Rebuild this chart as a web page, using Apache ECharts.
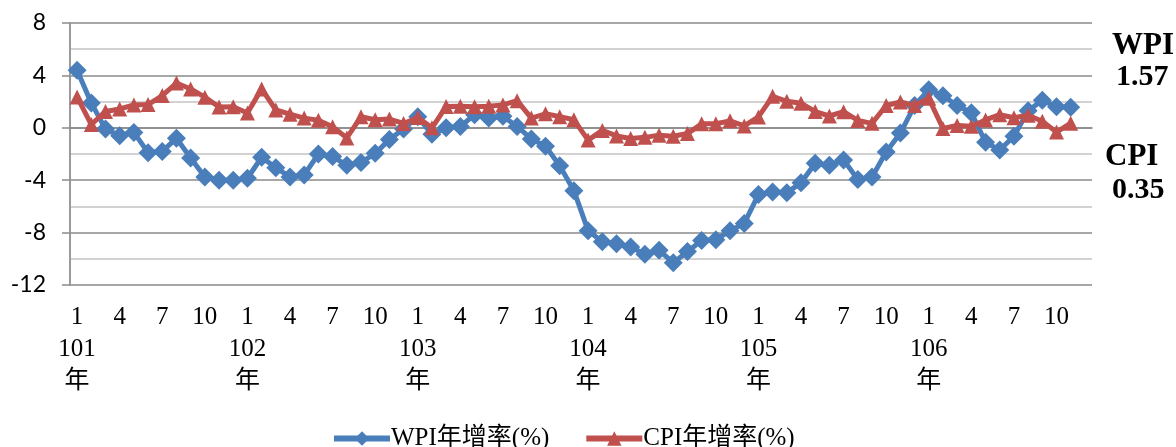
<!DOCTYPE html>
<html>
<head>
<meta charset="utf-8">
<script src="https://cdn.jsdelivr.net/npm/echarts@6/dist/echarts.min.js"></script>
<style>
html,body{margin:0;padding:0;background:#fff;}
#chart{width:1176px;height:447px;}
</style>
</head>
<body>
<div id="chart"></div>
<script>
// ---- data ----
const years = ['101', '102', '103', '104', '105', '106'];
const months = [1, 2, 3, 4, 5, 6, 7, 8, 9, 10, 11, 12];
const yTicks = { min: -12, max: 8, step: 4 };

const wpi = [
  4.4, 1.9, -0.1, -0.6, -0.35, -1.9, -1.8, -0.8, -2.3, -3.75, -4.0, -4.0,
  -3.85, -2.25, -3.05, -3.75, -3.6, -2.0, -2.2, -2.85, -2.65, -1.95, -0.9, -0.1,
  0.85, -0.5, 0.0, 0.1, 1.0, 0.75, 0.88, 0.1, -0.85, -1.4, -2.9, -4.8,
  -7.85, -8.7, -8.85, -9.1, -9.65, -9.35, -10.3, -9.45, -8.6, -8.55, -7.85, -7.3,
  -5.1, -4.9, -4.95, -4.2, -2.7, -2.85, -2.45, -3.95, -3.75, -1.85, -0.4, 1.7,
  2.9, 2.45, 1.7, 1.15, -1.1, -1.7, -0.65, 1.3, 2.1, 1.6, 1.57
];
const cpi = [
  2.36, 0.25, 1.25, 1.44, 1.74, 1.77, 2.46, 3.42, 2.96, 2.34, 1.59, 1.61,
  1.13, 2.97, 1.36, 1.04, 0.74, 0.58, 0.08, -0.77, 0.84, 0.62, 0.67, 0.33,
  0.79, 0.0, 1.62, 1.65, 1.61, 1.65, 1.75, 2.07, 0.74, 1.07, 0.85, 0.61,
  -0.94, -0.20, -0.62, -0.82, -0.73, -0.56, -0.64, -0.44, 0.30, 0.31, 0.53, 0.14,
  0.83, 2.40, 2.02, 1.88, 1.24, 0.90, 1.23, 0.56, 0.34, 1.70, 1.97, 1.70,
  2.25, -0.05, 0.18, 0.12, 0.60, 1.00, 0.77, 0.96, 0.50, -0.33, 0.35
];
const seriesNames = ['WPI年增率(%)', 'CPI年增率(%)'];

// ---- build categories ----
const categories = [];
years.forEach(y => months.forEach(m => {
  categories.push(m === 1 ? ('1\n' + y + '\n年') : String(m));
}));

const chart = echarts.init(document.getElementById('chart'), null, { renderer: 'canvas' });
const serif = '"Liberation Serif", "Times New Roman", "Noto Sans CJK TC", serif';

const option = {
  animation: false,
  backgroundColor: '#ffffff',
  grid: { left: 70, right: 84, top: 23, bottom: 162, containLabel: false },
  xAxis: {
    type: 'category',
    data: categories,
    boundaryGap: true,
    axisLine: { show: true, lineStyle: { color: '#8a8a8a', width: 1.5 } },
    axisTick: { show: false },
    splitLine: { show: false },
    axisLabel: {
      interval: 2,
      margin: 16,
      color: '#000',
      fontFamily: serif,
      fontSize: 25,
      lineHeight: 32
    }
  },
  yAxis: {
    type: 'value',
    min: yTicks.min,
    max: yTicks.max,
    interval: yTicks.step,
    axisLine: { show: true, lineStyle: { color: '#9a9a9a', width: 2 } },
    axisTick: { show: true, length: 8, lineStyle: { color: '#8a8a8a', width: 1.5 } },
    axisLabel: {
      margin: 24,
      color: '#000',
      fontFamily: 'Lato, "Open Sans", sans-serif',
      fontSize: 23
    },
    splitLine: { show: true, lineStyle: { color: '#8a8a8a', width: 1.5 } },
    minorTick: { show: false, splitNumber: 2 },
    minorSplitLine: { show: true, lineStyle: { color: '#c4c4c4', width: 1.5 } }
  },
  legend: {
    data: seriesNames,
    left: 326,
    top: 421,
    itemWidth: 56,
    itemHeight: 18,
    itemGap: 34,
    lineStyle: { width: 6 },
    textStyle: { fontFamily: serif, fontSize: 25, color: '#000', padding: [0, 0, 0, -4] }
  },
  series: [
    {
      name: seriesNames[0],
      type: 'line',
      data: wpi,
      symbol: 'diamond',
      symbolSize: 19,
      showAllSymbol: true,
      lineStyle: { color: '#4a7ebb', width: 5 },
      itemStyle: { color: '#4a7ebb' },
      z: 3
    },
    {
      name: seriesNames[1],
      type: 'line',
      data: cpi,
      symbol: 'triangle',
      symbolSize: 15,
      showAllSymbol: true,
      lineStyle: { color: '#c0504d', width: 5 },
      itemStyle: { color: '#c0504d' },
      z: 4
    }
  ],
  graphic: [
    { type: 'text', left: 1112, top: 30, style: { text: 'WPI', font: 'bold 31px "Liberation Serif", serif', fill: '#000' } },
    { type: 'text', left: 1116, top: 62, style: { text: wpi[wpi.length - 1].toFixed(2), font: 'bold 30px "Liberation Serif", serif', fill: '#000' } },
    { type: 'text', left: 1105, top: 141, style: { text: 'CPI', font: 'bold 31px "Liberation Serif", serif', fill: '#000' } },
    { type: 'text', left: 1112, top: 175, style: { text: cpi[cpi.length - 1].toFixed(2), font: 'bold 30px "Liberation Serif", serif', fill: '#000' } }
  ]
};
chart.setOption(option);
</script>
</body>
</html>
